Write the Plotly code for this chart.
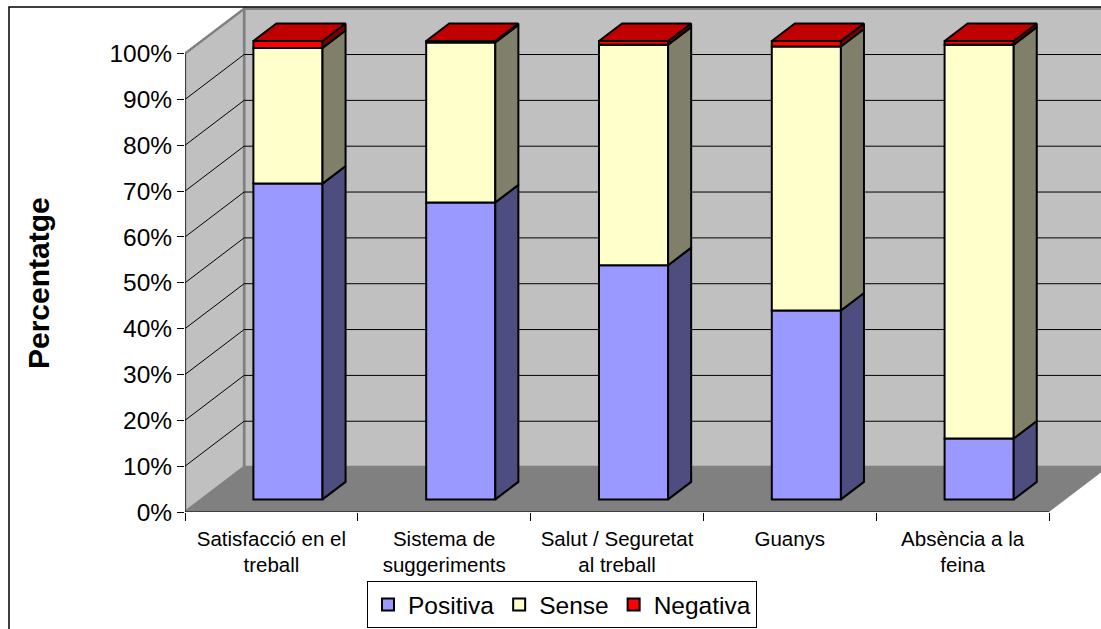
import plotly.graph_objects as go

# ---- data -------------------------------------------------------------
categories = [
    "Satisfacció en el<br>treball",
    "Sistema de<br>suggeriments",
    "Salut / Seguretat<br>al treball",
    "Guanys",
    "Absència a la<br>feina",
]
positiva = [68.9, 64.8, 51.1, 41.2, 13.3]
sense = [29.6, 34.9, 48.1, 57.6, 85.9]
negativa = [1.5, 0.3, 0.8, 1.2, 0.8]

series_names = ["Positiva", "Sense", "Negativa"]
y_tick_values = [0, 10, 20, 30, 40, 50, 60, 70, 80, 90, 100]
y_tick_labels = ["0%", "10%", "20%", "30%", "40%", "50%", "60%", "70%", "80%", "90%", "100%"]

# ---- styling / pseudo-3D geometry ------------------------------------
FONT = "Liberation Sans, Arial, sans-serif"
FRONT_COL = ["#9999FF", "#FFFFCC", "#FF0000"]
SIDE_COL = ["#4D4D80", "#80806A", "#800000"]
TOP_COL = "#C00000"
WALL = "#C0C0C0"
FLOOR = "#808080"

DEPTH_X = 0.342   # depth vector, x part (category units)
DEPTH_Y = 9.8     # depth vector, y part (percent units)
FRONT = 0.28      # depth fraction of bar front face
BACK = 0.67       # depth fraction of bar back face
BAR_W = 0.4

W, H = 1101, 629
L_M, R_M, T_M, B_M = 185, 0, 0, 117
PX_PER_CAT = 172.8
PX_PER_PCT = 4.584
plot_w = W - L_M - R_M
plot_h = H - T_M - B_M
x_range = [-0.5, -0.5 + plot_w / PX_PER_CAT]
y_range = [0, plot_h / PX_PER_PCT]

n = len(categories)
idx = list(range(n))
series = [positiva, sense, negativa]

fig = go.Figure()

fx = FRONT * DEPTH_X
fy = FRONT * DEPTH_Y
ddx = (BACK - FRONT) * DEPTH_X
ddy = (BACK - FRONT) * DEPTH_Y

bases = [0.0] * n
side_traces = []
top_trace = None
for k, (name, vals) in enumerate(zip(series_names, series)):
    # front faces
    fig.add_trace(go.Bar(
        x=[i + fx for i in idx],
        y=vals,
        base=[b + fy for b in bases],
        width=BAR_W,
        name=name,
        marker=dict(color=FRONT_COL[k], line=dict(color="black", width=2)),
        hovertemplate="%{customdata}<br>" + name + ": %{y:.1f}%<extra></extra>",
        customdata=[c.replace("<br>", " ") for c in categories],
    ))
    # side faces
    sx, sy = [], []
    for i in idx:
        xr = i + fx + BAR_W / 2
        y0 = bases[i] + fy
        y1 = bases[i] + vals[i] + fy
        sx += [xr, xr + ddx, xr + ddx, xr, xr, None]
        sy += [y0, y0 + ddy, y1 + ddy, y1, y0, None]
    side_traces.append(go.Scatter(
        x=sx, y=sy, mode="lines", fill="toself", fillcolor=SIDE_COL[k],
        line=dict(color="black", width=2), hoverinfo="skip", showlegend=False,
    ))
    bases = [b + v for b, v in zip(bases, vals)]
    if k == len(series) - 1:
        tx, ty = [], []
        for i in idx:
            xl = i + fx - BAR_W / 2
            xr = i + fx + BAR_W / 2
            yt = bases[i] + fy
            tx += [xl, xr, xr + ddx, xl + ddx, xl, None]
            ty += [yt, yt, yt + ddy, yt + ddy, yt, None]
        top_trace = go.Scatter(
            x=tx, y=ty, mode="lines", fill="toself", fillcolor=TOP_COL,
            line=dict(color="black", width=2), hoverinfo="skip", showlegend=False,
        )

for t in side_traces:
    fig.add_trace(t)
fig.add_trace(top_trace)

# ---- walls, floor and gridlines --------------------------------------
x0 = -0.5
x1 = n - 0.5
ymax = y_tick_values[-1]
shapes = []
# floor
shapes.append(dict(type="path", layer="below", xref="x", yref="y",
                   path=f"M{x0},0 L{x1},0 L{x1 + DEPTH_X},{DEPTH_Y} L{x0 + DEPTH_X},{DEPTH_Y} Z",
                   fillcolor=FLOOR, line=dict(width=0)))
# back wall
shapes.append(dict(type="path", layer="below", xref="x", yref="y",
                   path=f"M{x0 + DEPTH_X},{DEPTH_Y} L{x1 + DEPTH_X},{DEPTH_Y} "
                        f"L{x1 + DEPTH_X},{ymax + DEPTH_Y} L{x0 + DEPTH_X},{ymax + DEPTH_Y} Z",
                   fillcolor=WALL, line=dict(color="#808080", width=2.5)))
# left wall
shapes.append(dict(type="path", layer="below", xref="x", yref="y",
                   path=f"M{x0},0 L{x0 + DEPTH_X},{DEPTH_Y} L{x0 + DEPTH_X},{ymax + DEPTH_Y} L{x0},{ymax} Z",
                   fillcolor=WALL, line=dict(color="#808080", width=2.5)))
# gridlines on both walls
for v in y_tick_values[1:-1]:
    shapes.append(dict(type="line", layer="below", xref="x", yref="y",
                       x0=x0 + DEPTH_X, x1=x1 + DEPTH_X, y0=v + DEPTH_Y, y1=v + DEPTH_Y,
                       line=dict(color="black", width=1)))
    shapes.append(dict(type="line", layer="below", xref="x", yref="y",
                       x0=x0, x1=x0 + DEPTH_X, y0=v, y1=v + DEPTH_Y,
                       line=dict(color="black", width=1)))
# value axis line and floor front edge
shapes.append(dict(type="line", layer="below", xref="x", yref="y",
                   x0=x0, x1=x0, y0=0, y1=ymax, line=dict(color="black", width=1)))
shapes.append(dict(type="line", layer="below", xref="x", yref="y",
                   x0=x0, x1=x1, y0=0, y1=0, line=dict(color="black", width=1)))
# chart area border
shapes.append(dict(type="rect", layer="above", xref="paper", yref="paper",
                   x0=(9 - L_M) / plot_w, x1=1.05,
                   y0=-0.4, y1=(plot_h - 7) / plot_h,
                   line=dict(color="black", width=1.5), fillcolor="rgba(0,0,0,0)"))

fig.update_layout(
    width=W, height=H,
    margin=dict(l=L_M, r=R_M, t=T_M, b=B_M),
    paper_bgcolor="white",
    plot_bgcolor="white",
    barmode="overlay",
    font=dict(family=FONT, color="black"),
    shapes=shapes,
    showlegend=True,
    legend=dict(
        orientation="h", traceorder="normal",
        x=(562 - L_M) / plot_w, xanchor="center",
        y=(plot_h - 581) / plot_h, yanchor="top",
        bordercolor="black", borderwidth=1, bgcolor="white",
        font=dict(size=24.5, family=FONT), itemwidth=30,
    ),
    annotations=[dict(
        text="<b>Percentatge</b>", xref="paper", yref="paper",
        x=(38 - L_M) / plot_w, y=(plot_h - 283) / plot_h,
        xanchor="center", yanchor="middle", textangle=-90, showarrow=False,
        font=dict(size=30, family=FONT),
    )],
    xaxis=dict(
        range=x_range, showgrid=False, zeroline=False, showline=False,
        tickmode="array", tickvals=idx, ticktext=categories,
        ticks="", tickfont=dict(size=20.5), ticklabelstandoff=12,
        minor=dict(tickmode="array", tickvals=[i - 0.5 for i in range(n + 1)],
                   ticks="outside", ticklen=8, tickcolor="black", tickwidth=1,
                   showgrid=False),
        fixedrange=True,
    ),
    yaxis=dict(
        range=y_range, showgrid=False, zeroline=False, showline=False,
        tickmode="array", tickvals=y_tick_values, ticktext=y_tick_labels,
        ticks="outside", ticklen=7, tickcolor="black", tickwidth=1,
        tickfont=dict(size=24.5), fixedrange=True,
    ),
)

fig.write_html("out.html")
